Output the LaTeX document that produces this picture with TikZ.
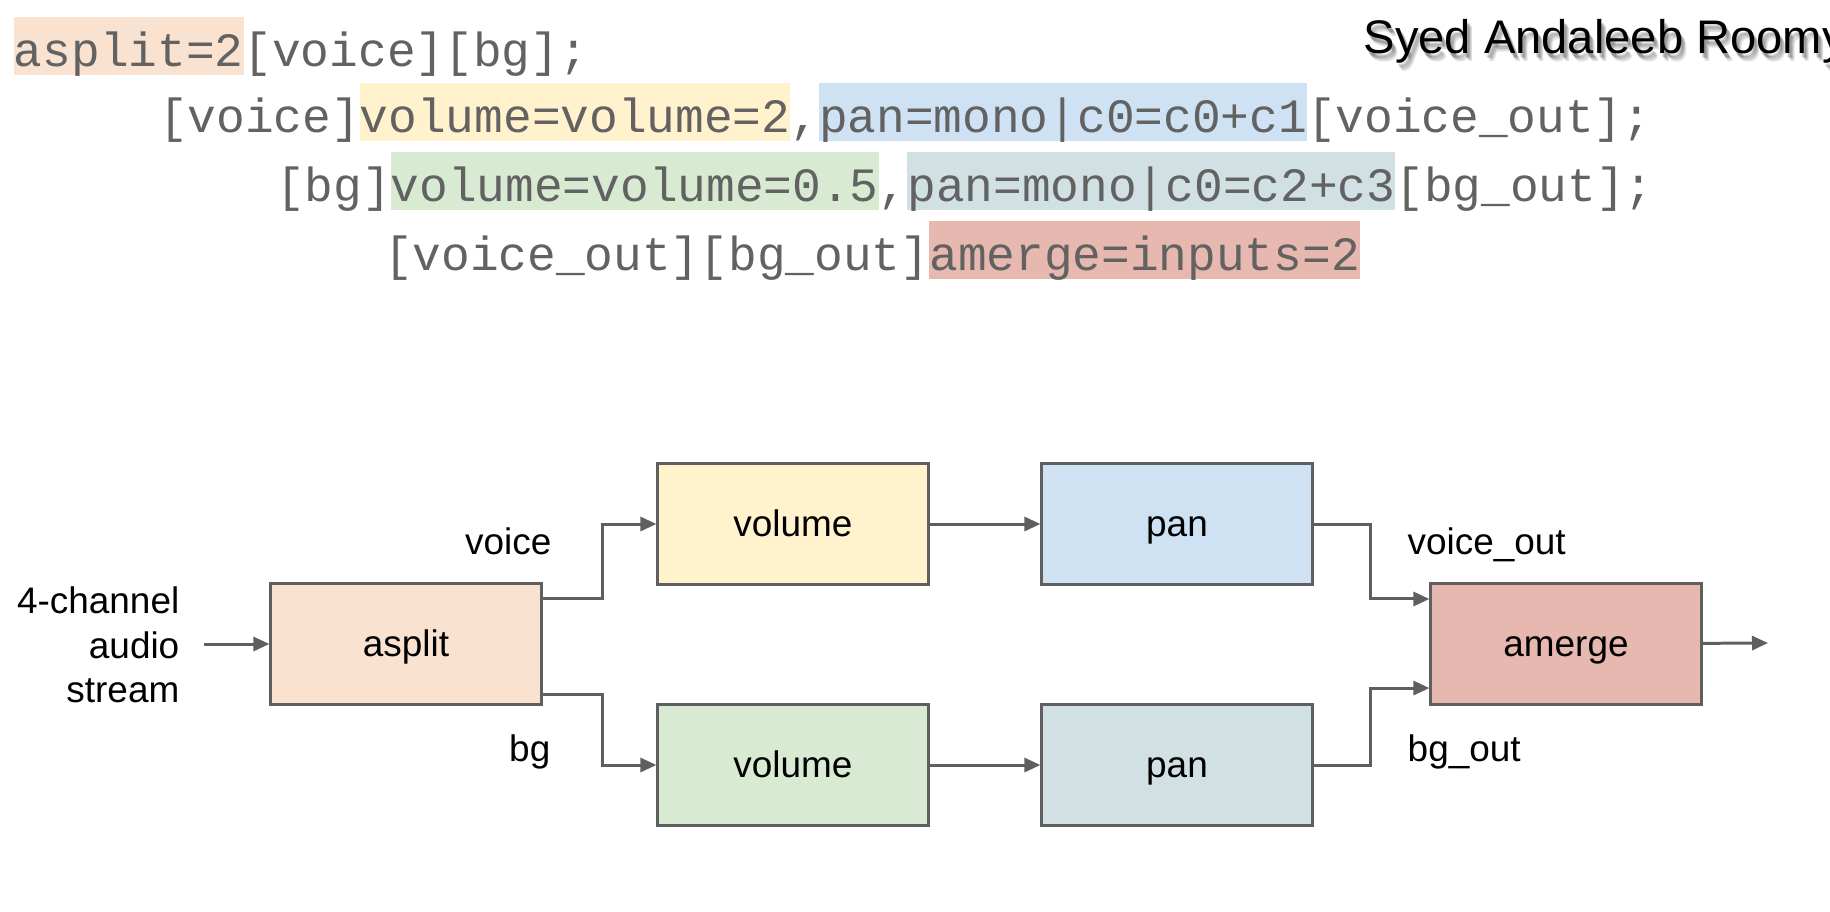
\documentclass[tikz,border=0pt]{standalone}
\usepackage{fontspec}
\setmainfont{Liberation Sans}
\newfontfamily\codefont{Liberation Mono}
\usetikzlibrary{positioning,arrows.meta}
\definecolor{edge}{HTML}{5F5F5F}
\definecolor{codegray}{HTML}{626262}
\definecolor{cpeach}{HTML}{F9E2D0}
\definecolor{cyellow}{HTML}{FFF2CC}
\definecolor{cblue}{HTML}{CFE2F3}
\definecolor{cgreen}{HTML}{D9EAD3}
\definecolor{cteal}{HTML}{D0E0E3}
\definecolor{cred}{HTML}{E6B8AF}
\tikzset{
	blockbox/.style = {draw = edge, line width = 0.85pt, minimum width = 2.7cm, minimum height = 1.2cm, text height = 0.905em, text depth = 0.212em, font = \fontsize{10.5}{12.6}\selectfont},
	codebit/.style = {font = \codefont\fontsize{13.6}{16}\selectfont, text = codegray, inner sep = 0pt, outer sep = 0pt, text height = 0.43cm, text depth = 0.03cm, minimum height = 0.57cm},
	lbl/.style = {font = \fontsize{10.5}{12.7}\selectfont, inner sep = 0pt},
	titletext/.style = {anchor = base west, inner sep = 0, font = \fontsize{13.4}{16}\selectfont},
	flow/.style = {draw = edge, line width = 0.85pt, -{Triangle[length = 0.16cm, width = 0.14cm]}}
}
\begin{document}
\begin{tikzpicture}[x = 0.01cm, y = -0.01cm]
	\useasboundingbox (0, 0) rectangle (1830, 911);
	\clip (0, 0) rectangle (1830, 911);
	
	\foreach \dx/\dy in {2/4, 4/6, 5/8, 3/5} {
		\node[titletext, text = black, opacity = 0.12] at (1363 + \dx, 53 + \dy) {Syed Andaleeb Roomy};
	}
	\node[titletext] (author) at (1363, 53) {Syed Andaleeb Roomy};
	
	\node[codebit, fill = cpeach, anchor = west] (c1a) at (14, 46) {asplit=2};
	\node[codebit, right = 0pt of c1a] (c1b) {[voice][bg];};
	
	\node[codebit, anchor = west] (c2a) at (159, 112) {[voice]};
	\node[codebit, fill = cyellow, right = 0pt of c2a] (c2b) {volume=volume=2};
	\node[codebit, right = 0pt of c2b] (c2c) {,};
	\node[codebit, fill = cblue, right = 0pt of c2c] (c2d) {pan=mono|c0=c0+c1};
	\node[codebit, right = 0pt of c2d] (c2e) {[voice\_out];};
	
	\node[codebit, anchor = west] (c3a) at (276, 181) {[bg]};
	\node[codebit, fill = cgreen, right = 0pt of c3a] (c3b) {volume=volume=0.5};
	\node[codebit, right = 0pt of c3b] (c3c) {,};
	\node[codebit, fill = cteal, right = 0pt of c3c] (c3d) {pan=mono|c0=c2+c3};
	\node[codebit, right = 0pt of c3d] (c3e) {[bg\_out];};
	
	\node[codebit, anchor = west] (c4a) at (384, 250) {[voice\_out][bg\_out]};
	\node[codebit, fill = cred, right = 0pt of c4a] (c4b) {amerge=inputs=2};
	
	\foreach \n/\x/\y/\c/\t in {asplit/406/644/cpeach/asplit, vol1/793/524/cyellow/volume, pan1/1177/524/cblue/pan,
		vol2/793/765/cgreen/volume, pan2/1177/765/cteal/pan, amerge/1566/644/cred/amerge} {
		\node[blockbox, fill = \c] (\n) at (\x, \y) {\t};
	}
	
	\node[lbl, anchor = east, align = right] (src) at (180, 645) {4-channel\\audio\\stream};
	\node[lbl, anchor = base east] (lvoice) at (552, 554) {voice};
	\node[lbl, anchor = base east] (lbg) at (551, 761) {bg};
	\node[lbl, anchor = base west] (lvoiceout) at (1407, 554) {voice\_out};
	\node[lbl, anchor = base west] (lbgout) at (1407, 761) {bg\_out};
	
	\coordinate (in) at (204, 644);
	\coordinate (out) at (1768, 643);
	\draw[flow] (in) -- (asplit);
	\draw[flow] ([yshift = 0.45cm]asplit.east) -- ++(60, 0) |- (vol1.west);
	\draw[flow] ([yshift = -0.5cm]asplit.east) -- ++(60, 0) |- (vol2.west);
	\draw[flow] (vol1) -- (pan1);
	\draw[flow] (vol2) -- (pan2);
	\draw[flow] (pan1.east) -- ++(57, 0) |- ([yshift = 0.45cm]amerge.west);
	\draw[flow] (pan2.east) -- ++(57, 0) |- ([yshift = -0.44cm]amerge.west);
	\draw[flow] (amerge) -- (out);
\end{tikzpicture}
\end{document}
